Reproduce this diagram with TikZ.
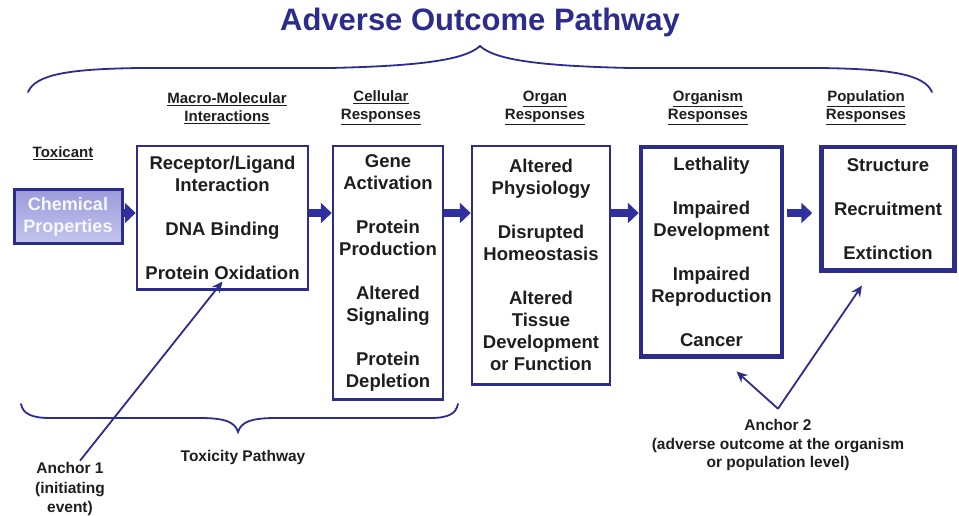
\documentclass[tikz,border=0pt]{standalone}
\usepackage{fontspec}
\setmainfont{Liberation Sans}
\usetikzlibrary{arrows.meta}

\definecolor{aopblue}{HTML}{2C2C8C}
\definecolor{arrowblue}{HTML}{2F2FA0}
\definecolor{txtgray}{HTML}{1E1E1E}
\definecolor{chemtop}{HTML}{9C9CDC}
\definecolor{chembot}{HTML}{C4C4EE}

\tikzset{
  box/.style={draw=aopblue, line width=2.5pt, fill=white, anchor=north, align=center,
    inner sep=0pt, text=txtgray, font=\fontsize{18.5}{22}\selectfont\bfseries},
  heavybox/.style={box, line width=4.5pt},
  hdr/.style={align=center, text=txtgray, font=\fontsize{15}{18}\selectfont\bfseries},
  blockarrow/.style={draw=arrowblue, line width=8pt, -{Triangle[length=11pt,width=20pt]}},
  brace/.style={draw=aopblue, line width=1.8pt, line cap=round},
  pointer/.style={draw=aopblue, line width=1.8pt, -{Stealth[length=11pt,width=10pt]}},
}

\begin{document}
\begin{tikzpicture}[x=1pt, y=-1pt]
    \useasboundingbox (0,0) rectangle (959,516);

    % title and the big brace
    \node[text=aopblue, font=\fontsize{31}{36}\selectfont\bfseries] (title) at (480,22) {Adverse Outcome Pathway};
    \draw[brace] (28,92) .. controls (36,74) and (70,69) .. (140,68) -- (330,68)
        .. controls (420,66) and (465,60) .. (480,46)
        .. controls (495,60) and (540,66) .. (630,68) -- (820,68)
        .. controls (890,69) and (924,74) .. (932,92);

    % column headers
    \node[hdr] (htox) at (63,153) {\underline{Toxicant}};
    \node[hdr] (hmm) at (227,108) {\underline{Macro-Molecular}\\\underline{Interactions}};
    \node[hdr] (hcell) at (381,108) {\underline{Cellular}\\\underline{Responses}};
    \node[hdr] (horgan) at (545,108) {\underline{Organ}\\\underline{Responses}};
    \node[hdr] (horgsm) at (708,108) {\underline{Organism}\\\underline{Responses}};
    \node[hdr] (hpop) at (866,108) {\underline{Population}\\\underline{Responses}};

    % boxes
    \node[box, anchor=center, draw=aopblue, line width=3pt, top color=chemtop, bottom color=chembot,
        text=white!92!chemtop, font=\fontsize{18}{22}\selectfont\bfseries,
        minimum width=108pt, minimum height=53pt] (chem) at (68,216.5) {Chemical\\Properties};
    \node[box, minimum width=171pt, minimum height=143pt] (mm) at (222.5,145)
        {Receptor/Ligand\\Interaction\\[22pt]DNA Binding\\[22pt]Protein Oxidation};
    \node[box, minimum width=110pt, minimum height=253pt] (cell) at (388,145)
        {Gene\\Activation\\[22pt]Protein\\Production\\[22pt]Altered\\Signaling\\[22pt]Protein\\Depletion};
    \node[box, minimum width=138pt, minimum height=238pt] (organ) at (541,145)
        {Altered\\Physiology\\[22pt]Disrupted\\Homeostasis\\[22pt]Altered\\Tissue\\Development\\or Function};
    \node[heavybox, minimum width=141pt, minimum height=209pt] (orgsm) at (711.5,145)
        {Lethality\\[22pt]Impaired\\Development\\[22pt]Impaired\\Reproduction\\[22pt]Cancer};
    \node[heavybox, minimum width=133pt, minimum height=123pt] (pop) at (888,145)
        {Structure\\[22pt]Recruitment\\[22pt]Extinction};

    % block arrows along the pathway
    \coordinate (lane) at (0,213);
    \draw[blockarrow] (chem.east |- lane) -- (mm.west |- lane);
    \draw[blockarrow] (mm.east |- lane) -- (cell.west |- lane);
    \draw[blockarrow] (cell.east |- lane) -- (organ.west |- lane);
    \draw[blockarrow] (organ.east |- lane) -- (orgsm.west |- lane);
    \draw[blockarrow, shorten <=3pt, shorten >=7pt] (orgsm.east |- lane) -- (pop.west |- lane);

    % toxicity pathway brace
    \draw[brace] (21,404) .. controls (23,414) and (32,418) .. (50,418) -- (200,418)
        .. controls (225,418) and (235,422) .. (238,432)
        .. controls (241,422) and (251,418) .. (276,418) -- (430,418)
        .. controls (448,418) and (456,414) .. (458,404);
    \node[hdr, font=\fontsize{15.5}{18}\selectfont\bfseries] (toxpath) at (243,457) {Toxicity Pathway};

    % anchors
    \node[hdr, font=\fontsize{15.5}{19.5}\selectfont\bfseries] (anc1) at (70,489) {Anchor 1\\(initiating\\event)};
    \draw[pointer] ([xshift=10pt,yshift=-2pt]anc1.north) -- ([yshift=9pt]mm.south);

    \node[hdr, font=\fontsize{15.5}{18.5}\selectfont\bfseries] (anc2) at (778,445) {Anchor 2\\(adverse outcome at the organism\\or population level)};
    \coordinate (fork) at ([yshift=7pt]anc2.north);
    \draw[pointer] (fork) -- ([xshift=25pt,yshift=-13pt]orgsm.south);
    \draw[pointer] (fork) -- ([xshift=-26pt,yshift=-13pt]pop.south);
\end{tikzpicture}
\end{document}
